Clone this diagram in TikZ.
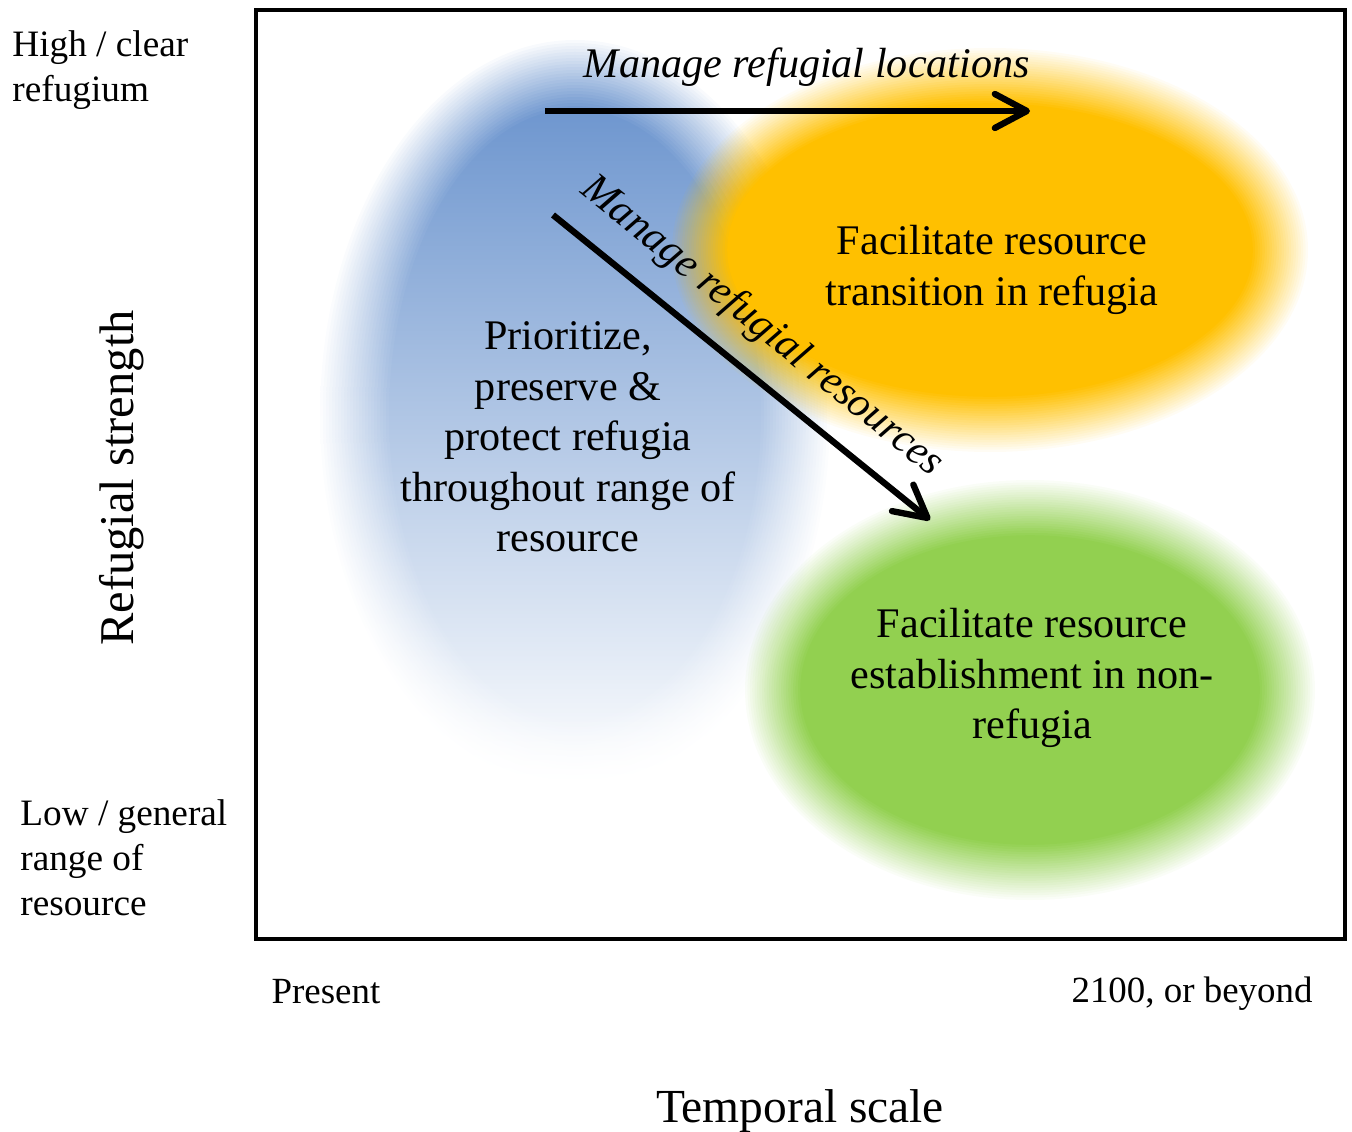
\documentclass[tikz,border=0pt]{standalone}
\usepackage{fontspec}
\setmainfont{Liberation Serif}
\usetikzlibrary{arrows.meta}

\definecolor{deepBlue}{RGB}{96,140,202}
\definecolor{refOrange}{RGB}{255,192,0}
\definecolor{refGreen}{RGB}{146,208,80}

\tikzset{
  txt/.style={font=\fontsize{12}{14.4}\selectfont, align=center},
  axtxt/.style={font=\fontsize{10.6}{12.8}\selectfont, align=left},
  arr/.style={line width=1.8pt, -{Straight Barb[length=3.2mm, width=3.4mm, round]}},
}

\begin{document}
\begin{tikzpicture}
\useasboundingbox (0,0) rectangle (13.52,11.31);

% soft blobs (linear ramp of opacity towards the rim)
\foreach \k [evaluate=\k as \op using {1/(24-\k)}] in {0,...,23}
  \shade[top color=deepBlue, bottom color=white, fill opacity=\op] (5.75,7.16) ellipse [x radius={2.55-0.03*\k}, y radius={3.75-0.03*\k}] (5.75,3.41) (5.75,10.91);
\foreach \k [evaluate=\k as \op using {1/(24-\k)}] in {0,...,23}
  \fill[refOrange, fill opacity=\op] (9.9,8.81) ellipse [x radius={3.18-0.024*\k}, y radius={2.02-0.024*\k}];
\foreach \k [evaluate=\k as \op using {1/(24-\k)}] in {0,...,23}
  \fill[refGreen, fill opacity=\op] (10.3,4.41) ellipse [x radius={2.85-0.024*\k}, y radius={2.1-0.024*\k}];

% frame
\coordinate (fSW) at (2.56,1.92);
\coordinate (fNE) at (13.45,11.21);
\draw [line width=1.4pt] (fSW) rectangle (fNE);

% axis labels
\node[axtxt, anchor=west] (yhigh) at (0.0,10.61) {High / clear\\refugium};
\node[axtxt, anchor=west] (ylow) at (0.08,2.73) {Low / general\\range of\\resource};
\node[font=\fontsize{13.8}{16}\selectfont, rotate=90] (ylab) at (1.22,6.53) {Refugial strength};
\node[font=\fontsize{10.5}{12.6}\selectfont] (xnow) at (3.26,1.39) {Present};
\node[font=\fontsize{10.5}{12.6}\selectfont] (xfut) at (11.92,1.37) {2100, or beyond};
\node[font=\fontsize{13.5}{16}\selectfont] (xlab) at (8.0,0.20) {Temporal scale};

% region texts
\node[txt] (prio) at (5.68,6.94) {Prioritize,\\preserve \&\\protect refugia\\throughout range of\\resource};
\node[txt] (trans) at (9.92,8.61) {Facilitate resource\\transition in refugia};
\node[txt] (estab) at (10.32,4.53) {Facilitate resource\\establishment in non-\\refugia};

% management arrows
\coordinate (locS) at (5.45,10.20);
\coordinate (locE) at (10.30,10.20);
\coordinate (resS) at (5.53,9.16);
\coordinate (resE) at (9.30,6.11);
\draw [arr] (locS) -- node[pos=0.54, above=1mm, txt, font=\fontsize{12}{14.4}\selectfont\itshape] {Manage refugial locations} (locE);
\draw [arr] (resS) -- node[pos=0.48, above=1mm, sloped, txt, font=\fontsize{12}{14.4}\selectfont\itshape] {Manage refugial resources} (resE);
\end{tikzpicture}
\end{document}
